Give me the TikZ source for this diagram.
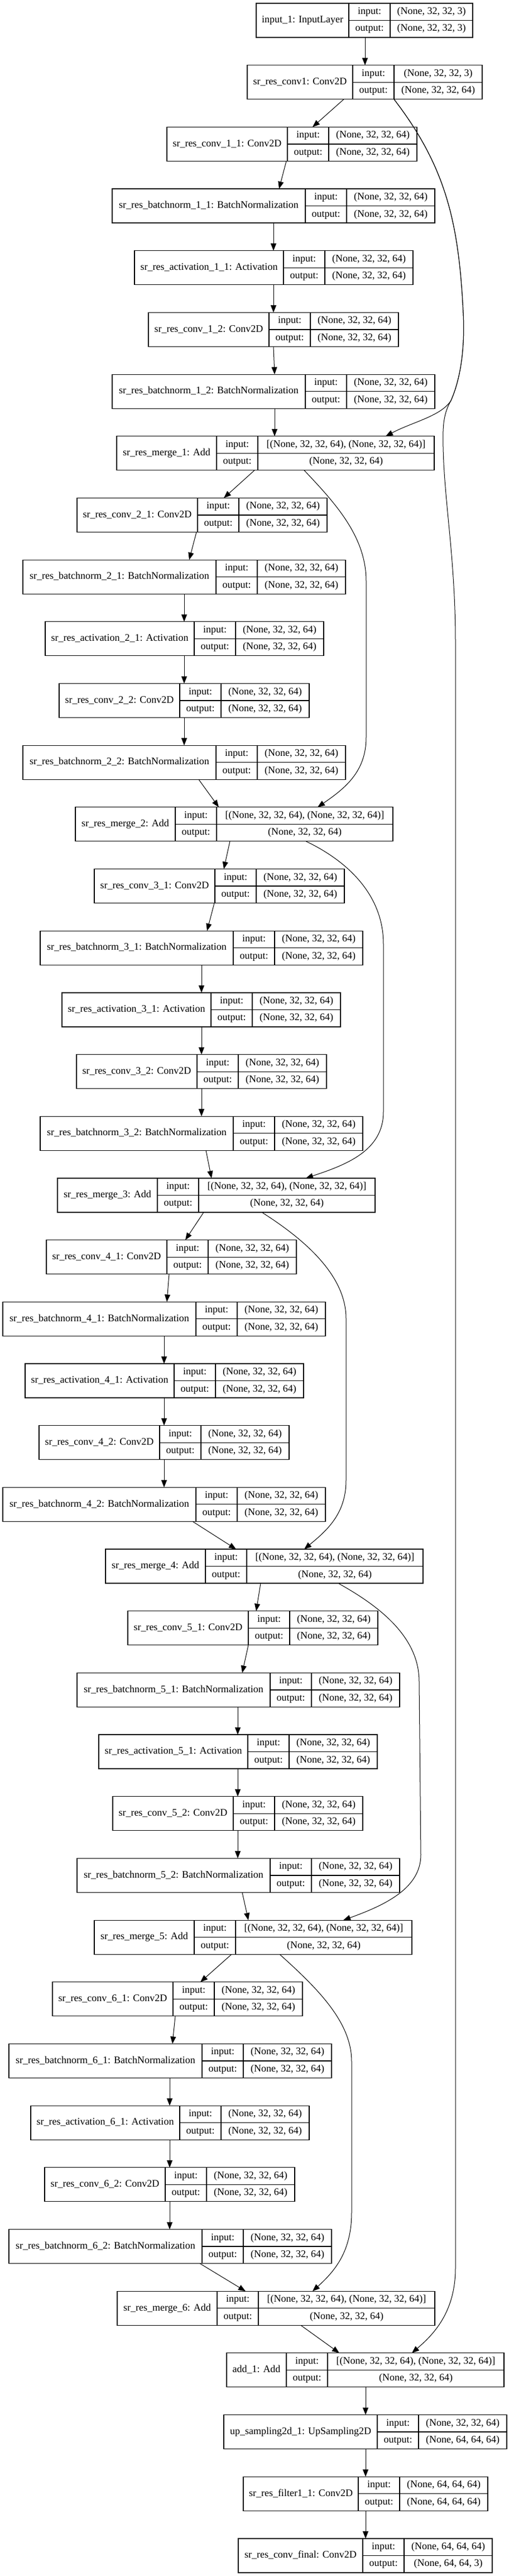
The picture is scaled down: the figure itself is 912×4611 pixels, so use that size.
\documentclass[tikz,border=0pt]{standalone}
\usepackage{fontspec}
\setmainfont{Liberation Serif}
\usetikzlibrary{arrows.meta,calc,positioning}

% one keras layer record: name, x, y, label width, label, shape width, input, output
\newcommand{\layer}[8]{%
  \node[cellbox, minimum width=#4pt, minimum height=61pt, anchor=north west] (#1) at (#2,#3) {#5};
  \node[cellbox, minimum width=74pt, anchor=north west] (#1i) at (#1.north east) {input:};
  \node[cellbox, minimum width=74pt, anchor=north west] (#1o) at (#1i.south west) {output:};
  \node[cellbox, minimum width=#6pt, anchor=north west] (#1a) at (#1i.north east) {#7};
  \node[cellbox, minimum width=#6pt, anchor=north west] (#1b) at (#1o.north east) {#8};
}

\begin{document}
\begin{tikzpicture}[x=1pt, y=-1pt,
  cellbox/.style={draw, line width=1.2pt, inner sep=0pt, outer sep=0pt, minimum height=30.5pt,
    text height=12.5pt, text depth=4pt, font=\fontsize{18pt}{21pt}\selectfont},
  flow/.style={line width=1pt, -{Triangle[length=13pt,width=10pt]}}]
  \path[fill=white, use as bounding box] (0,0) rectangle (912,4611);

  \layer{i1}{459}{6}{166}{input\_1: InputLayer}{148}{(None, 32, 32, 3)}{(None, 32, 32, 3)}
  \layer{c1}{443}{116.7}{189}{sr\_res\_conv1: Conv2D}{158}{(None, 32, 32, 3)}{(None, 32, 32, 64)}

  % block 1
  \layer{c11}{299}{227.4}{216}{sr\_res\_conv\_1\_1: Conv2D}{158}{(None, 32, 32, 64)}{(None, 32, 32, 64)}
  \layer{b11}{201}{338}{346}{sr\_res\_batchnorm\_1\_1: BatchNormalization}{158}{(None, 32, 32, 64)}{(None, 32, 32, 64)}
  \layer{a11}{241}{448.7}{267}{sr\_res\_activation\_1\_1: Activation}{158}{(None, 32, 32, 64)}{(None, 32, 32, 64)}
  \layer{c12}{266}{559.4}{216}{sr\_res\_conv\_1\_2: Conv2D}{158}{(None, 32, 32, 64)}{(None, 32, 32, 64)}
  \layer{b12}{201}{670.1}{346}{sr\_res\_batchnorm\_1\_2: BatchNormalization}{158}{(None, 32, 32, 64)}{(None, 32, 32, 64)}
  \layer{m1}{209}{780.8}{179}{sr\_res\_merge\_1: Add}{316}{[(None, 32, 32, 64), (None, 32, 32, 64)]}{(None, 32, 32, 64)}

  % block 2
  \layer{c21}{138}{891.4}{216}{sr\_res\_conv\_2\_1: Conv2D}{158}{(None, 32, 32, 64)}{(None, 32, 32, 64)}
  \layer{b21}{41}{1002.1}{346}{sr\_res\_batchnorm\_2\_1: BatchNormalization}{158}{(None, 32, 32, 64)}{(None, 32, 32, 64)}
  \layer{a21}{81}{1112.8}{267}{sr\_res\_activation\_2\_1: Activation}{158}{(None, 32, 32, 64)}{(None, 32, 32, 64)}
  \layer{c22}{106}{1223.5}{216}{sr\_res\_conv\_2\_2: Conv2D}{158}{(None, 32, 32, 64)}{(None, 32, 32, 64)}
  \layer{b22}{41}{1334.2}{346}{sr\_res\_batchnorm\_2\_2: BatchNormalization}{158}{(None, 32, 32, 64)}{(None, 32, 32, 64)}
  \layer{m2}{135}{1444.8}{179}{sr\_res\_merge\_2: Add}{316}{[(None, 32, 32, 64), (None, 32, 32, 64)]}{(None, 32, 32, 64)}

  % block 3
  \layer{c31}{169}{1555.5}{216}{sr\_res\_conv\_3\_1: Conv2D}{158}{(None, 32, 32, 64)}{(None, 32, 32, 64)}
  \layer{b31}{72}{1666.2}{346}{sr\_res\_batchnorm\_3\_1: BatchNormalization}{158}{(None, 32, 32, 64)}{(None, 32, 32, 64)}
  \layer{a31}{111}{1776.9}{267}{sr\_res\_activation\_3\_1: Activation}{158}{(None, 32, 32, 64)}{(None, 32, 32, 64)}
  \layer{c32}{137}{1887.6}{216}{sr\_res\_conv\_3\_2: Conv2D}{158}{(None, 32, 32, 64)}{(None, 32, 32, 64)}
  \layer{b32}{72}{1998.2}{346}{sr\_res\_batchnorm\_3\_2: BatchNormalization}{158}{(None, 32, 32, 64)}{(None, 32, 32, 64)}
  \layer{m3}{103}{2108.9}{179}{sr\_res\_merge\_3: Add}{316}{[(None, 32, 32, 64), (None, 32, 32, 64)]}{(None, 32, 32, 64)}

  % block 4
  \layer{c41}{83}{2219.6}{216}{sr\_res\_conv\_4\_1: Conv2D}{158}{(None, 32, 32, 64)}{(None, 32, 32, 64)}
  \layer{b41}{5}{2330.3}{346}{sr\_res\_batchnorm\_4\_1: BatchNormalization}{158}{(None, 32, 32, 64)}{(None, 32, 32, 64)}
  \layer{a41}{45}{2441}{267}{sr\_res\_activation\_4\_1: Activation}{158}{(None, 32, 32, 64)}{(None, 32, 32, 64)}
  \layer{c42}{70}{2551.6}{216}{sr\_res\_conv\_4\_2: Conv2D}{158}{(None, 32, 32, 64)}{(None, 32, 32, 64)}
  \layer{b42}{5}{2662.3}{346}{sr\_res\_batchnorm\_4\_2: BatchNormalization}{158}{(None, 32, 32, 64)}{(None, 32, 32, 64)}
  \layer{m4}{189}{2773}{179}{sr\_res\_merge\_4: Add}{316}{[(None, 32, 32, 64), (None, 32, 32, 64)]}{(None, 32, 32, 64)}

  % block 5
  \layer{c51}{229}{2883.7}{216}{sr\_res\_conv\_5\_1: Conv2D}{158}{(None, 32, 32, 64)}{(None, 32, 32, 64)}
  \layer{b51}{138}{2994.4}{346}{sr\_res\_batchnorm\_5\_1: BatchNormalization}{158}{(None, 32, 32, 64)}{(None, 32, 32, 64)}
  \layer{a51}{177}{3105}{267}{sr\_res\_activation\_5\_1: Activation}{158}{(None, 32, 32, 64)}{(None, 32, 32, 64)}
  \layer{c52}{202}{3215.7}{216}{sr\_res\_conv\_5\_2: Conv2D}{158}{(None, 32, 32, 64)}{(None, 32, 32, 64)}
  \layer{b52}{138}{3326.4}{346}{sr\_res\_batchnorm\_5\_2: BatchNormalization}{158}{(None, 32, 32, 64)}{(None, 32, 32, 64)}
  \layer{m5}{169}{3437.1}{179}{sr\_res\_merge\_5: Add}{316}{[(None, 32, 32, 64), (None, 32, 32, 64)]}{(None, 32, 32, 64)}

  % block 6
  \layer{c61}{94}{3547.8}{216}{sr\_res\_conv\_6\_1: Conv2D}{158}{(None, 32, 32, 64)}{(None, 32, 32, 64)}
  \layer{b61}{16}{3658.4}{346}{sr\_res\_batchnorm\_6\_1: BatchNormalization}{158}{(None, 32, 32, 64)}{(None, 32, 32, 64)}
  \layer{a61}{55}{3769.1}{267}{sr\_res\_activation\_6\_1: Activation}{158}{(None, 32, 32, 64)}{(None, 32, 32, 64)}
  \layer{c62}{80}{3879.8}{216}{sr\_res\_conv\_6\_2: Conv2D}{158}{(None, 32, 32, 64)}{(None, 32, 32, 64)}
  \layer{b62}{16}{3990.5}{346}{sr\_res\_batchnorm\_6\_2: BatchNormalization}{158}{(None, 32, 32, 64)}{(None, 32, 32, 64)}
  \layer{m6}{210}{4101.2}{179}{sr\_res\_merge\_6: Add}{316}{[(None, 32, 32, 64), (None, 32, 32, 64)]}{(None, 32, 32, 64)}

  % tail
  \layer{add1}{406}{4211.8}{107}{add\_1: Add}{316}{[(None, 32, 32, 64), (None, 32, 32, 64)]}{(None, 32, 32, 64)}
  \layer{up1}{401}{4322.5}{275}{up\_sampling2d\_1: UpSampling2D}{158}{(None, 32, 32, 64)}{(None, 64, 64, 64)}
  \layer{f11}{436}{4433.2}{206}{sr\_res\_filter1\_1: Conv2D}{158}{(None, 64, 64, 64)}{(None, 64, 64, 64)}
  \layer{cf}{427}{4543.9}{223}{sr\_res\_conv\_final: Conv2D}{158}{(None, 64, 64, 64)}{(None, 64, 64, 3)}

  % main chain
  \draw[flow] (654,0 |- i1.south) -- (654,0 |- c1.north);
  \draw[flow] (616,0 |- c1.south) -- (560,0 |- c11.north);
  \draw[flow] (513,0 |- c11.south) -- (500,0 |- b11.north);
  \draw[flow] (490,0 |- b11.south) -- (490,0 |- a11.north);
  \draw[flow] (490,0 |- a11.south) -- (490,0 |- c12.north);
  \draw[flow] (490,0 |- c12.south) -- (492,0 |- b12.north);
  \draw[flow] (492,0 |- b12.south) -- (492,0 |- m1.north);
  \draw[flow] (456,0 |- m1.south) -- (401,0 |- c21.north);
  \draw[flow] (352,0 |- c21.south) -- (339,0 |- b21.north);
  \draw[flow] (330,0 |- b21.south) -- (330,0 |- a21.north);
  \draw[flow] (330,0 |- a21.south) -- (330,0 |- c22.north);
  \draw[flow] (330,0 |- c22.south) -- (330,0 |- b22.north);
  \draw[flow] (356,0 |- b22.south) -- (392,0 |- m2.north);
  \draw[flow] (412,0 |- m2.south) -- (401,0 |- c31.north);
  \draw[flow] (384,0 |- c31.south) -- (371,0 |- b31.north);
  \draw[flow] (361,0 |- b31.south) -- (361,0 |- a31.north);
  \draw[flow] (361,0 |- a31.south) -- (361,0 |- c32.north);
  \draw[flow] (361,0 |- c32.south) -- (361,0 |- b32.north);
  \draw[flow] (369,0 |- b32.south) -- (379,0 |- m3.north);
  \draw[flow] (365,0 |- m3.south) -- (332,0 |- c41.north);
  \draw[flow] (303,0 |- c41.south) -- (299,0 |- b41.north);
  \draw[flow] (294,0 |- b41.south) -- (294,0 |- a41.north);
  \draw[flow] (294,0 |- a41.south) -- (294,0 |- c42.north);
  \draw[flow] (294,0 |- c42.south) -- (294,0 |- b42.north);
  \draw[flow] (345,0 |- b42.south) -- (423,0 |- m4.north);
  \draw[flow] (467,0 |- m4.south) -- (459,0 |- c51.north);
  \draw[flow] (445,0 |- c51.south) -- (434,0 |- b51.north);
  \draw[flow] (426,0 |- b51.south) -- (426,0 |- a51.north);
  \draw[flow] (426,0 |- a51.south) -- (426,0 |- c52.north);
  \draw[flow] (426,0 |- c52.south) -- (426,0 |- b52.north);
  \draw[flow] (434,0 |- b52.south) -- (445,0 |- m5.north);
  \draw[flow] (415,0 |- m5.south) -- (359,0 |- c61.north);
  \draw[flow] (314,0 |- c61.south) -- (309,0 |- b61.north);
  \draw[flow] (304,0 |- b61.south) -- (304,0 |- a61.north);
  \draw[flow] (304,0 |- a61.south) -- (304,0 |- c62.north);
  \draw[flow] (304,0 |- c62.south) -- (304,0 |- b62.north);
  \draw[flow] (358,0 |- b62.south) -- (440,0 |- m6.north);
  \draw[flow] (539,0 |- m6.south) -- (608,0 |- add1.north);
  \draw[flow] (655,0 |- add1.south) -- (655,0 |- up1.north);
  \draw[flow] (655,0 |- up1.south) -- (655,0 |- f11.north);
  \draw[flow] (655,0 |- f11.south) -- (655,0 |- cf.north);

  % skip connections
  \draw[flow] (706,0 |- c1.south) .. controls (800,300) and (822,400) .. (830,560)
    .. controls (834,640) and (820,690) .. (808,717)
    .. controls (790,745) and (740,755) .. (691,0 |- m1.north);
  \draw[flow] (706,0 |- c1.south) .. controls (800,300) and (822,400) .. (830,560)
    .. controls (834,640) and (820,690) .. (808,717)
    .. controls (795,740) and (793,760) .. (794,800)
    .. controls (796,900) and (816,1000) .. (816,1150) -- (816,4060)
    .. controls (816,4140) and (775,4180) .. (738,0 |- add1.north);
  \draw[flow] (545,0 |- m1.south) .. controls (600,900) and (656,960) .. (656,1040) -- (656,1320)
    .. controls (656,1380) and (620,1410) .. (569,0 |- m2.north);
  \draw[flow] (548,0 |- m2.south) .. controls (620,1540) and (687,1600) .. (687,1690) -- (687,1990)
    .. controls (687,2060) and (620,2085) .. (548,0 |- m3.north);
  \draw[flow] (469,0 |- m3.south) .. controls (540,2215) and (620,2280) .. (620,2360) -- (620,2650)
    .. controls (620,2710) and (585,2740) .. (545,0 |- m4.north);
  \draw[flow] (606,0 |- m4.south) .. controls (680,2875) and (751,2930) .. (751,3010) -- (754,3320)
    .. controls (754,3380) and (690,3410) .. (615,0 |- m5.north);
  \draw[flow] (501,0 |- m5.south) .. controls (570,3560) and (630,3620) .. (630,3690) -- (630,3960)
    .. controls (630,4030) and (600,4065) .. (560,0 |- m6.north);
\end{tikzpicture}
\end{document}
